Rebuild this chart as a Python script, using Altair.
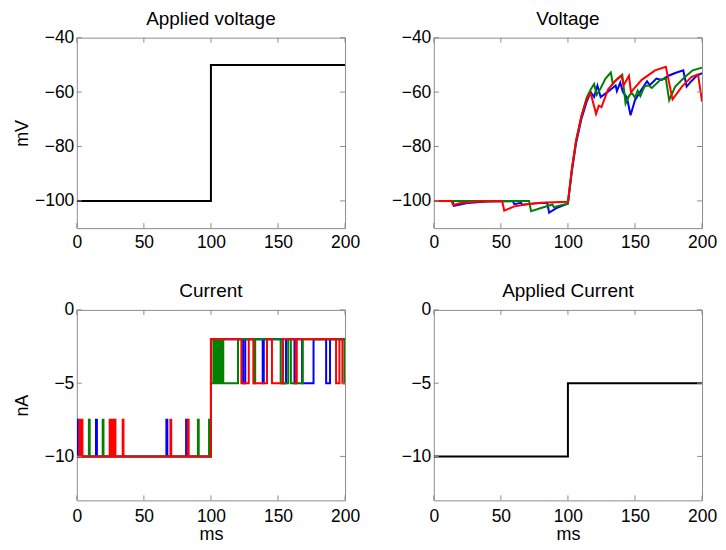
import altair as alt
import pandas as pd

# ---------------- data ----------------
x_ticks = [0, 50, 100, 150, 200]
v_ticks = [-40, -60, -80, -100]
i_ticks = [0, -5, -10]
v_domain = [-110, -40]
i_domain = [-13, 0]
t_domain = [0, 200]

applied_v_t = [0, 100, 200]
applied_v = [-100, -50, -50]
applied_i_t = [0, 100, 200]
applied_i = [-10, -5, -5]

# Voltage traces (ms, mV)
volt_blue_t = [0, 14, 15, 25, 40, 59, 60, 65, 66, 75, 84.5, 86, 92, 100,
               103, 106, 110, 114, 117, 119.5, 122, 124.4, 129.4, 135.6, 136.5, 139,
               141, 144, 146.7, 150, 155, 159, 161, 166, 170, 175, 180, 186, 188.5,
               192, 196, 200]
volt_blue_v = [-100, -100, -101.8, -100.8, -100.2, -100.1, -101.2, -100.7, -101.4, -100.9, -100.7, -104.3, -102.5, -101,
               -89, -79, -70, -63.5, -60, -61.8, -57.6, -61.8, -60, -57.6, -59.6, -56.5,
               -60, -62, -68.5, -63, -59, -56, -57.5, -55, -55.5, -54, -53, -52, -58,
               -56, -54, -53]

volt_green_t = [0, 71, 72.5, 80, 88.5, 89.5, 95, 100,
                103, 106, 110, 114, 117, 119.5, 121.5, 124, 128, 132, 133.5, 137, 140.5,
                143, 146, 148, 150, 152, 154, 157, 160, 162.5, 169, 173, 175.5, 180,
                186, 193, 200]
volt_green_v = [-100, -100, -103.8, -102.6, -101.3, -102.3, -101.6, -101,
                -88, -78, -69, -62, -59, -57, -61, -59, -55, -52.8, -57, -55, -53.6,
                -64.2, -61, -60.5, -62, -59.5, -61.5, -58, -57.5, -58.5, -55.5, -55, -63, -58,
                -55, -52, -51]

volt_red_t = [0, 13, 14.5, 20, 30, 51, 52.5, 60, 70, 80, 100,
              103, 106, 110, 114, 117, 121, 123, 125, 130, 135, 140, 141.5, 145.5,
              147, 155, 165, 173, 178, 185, 192, 197, 200]
volt_red_v = [-100, -100, -101.5, -100.8, -100.3, -100, -103.6, -102, -101.2, -100.7, -100.3,
              -88, -78, -69, -62.5, -60.5, -68, -65, -65.5, -59, -56, -54, -57.5, -54,
              -60, -55.5, -52, -50.7, -62.7, -58, -54.5, -53.5, -63.5]

# Current traces (ms, nA), step-after
cur_blue_t = [0, 0.8, 14.3, 15, 66.8, 67.5, 81.5, 82.2, 100, 124, 125.6, 138.6, 139.4,
              153.6, 156, 162.3, 163, 168, 176.5, 185.9, 188.8, 200]
cur_blue_v = [-7.5, -10, -7.5, -10, -7.5, -10, -7.5, -10, -2, -5, -2, -5, -2,
              -5, -2, -5, -2, -5, -2, -5, -2, -2]

cur_green_t = [0, 9, 9.6, 19.3, 19.9, 90.3, 90.9, 98.6, 99.2, 100, 101.8, 102.4, 103.8, 104.4,
               105.8, 106.4, 107.8, 109.2, 120.2, 131.8, 133, 152, 157.6, 159.6, 168.5, 199.5, 200]
cur_green_v = [-10, -7.5, -10, -7.5, -10, -7.5, -10, -7.5, -10, -5, -2, -5, -2, -5,
               -2, -5, -2, -5, -2, -5, -2, -5, -2, -5, -2, -5, -5]

cur_red_t = [0, 2, 2.6, 3.6, 4.2, 24.5, 25.1, 26.5, 27.1, 28.2, 28.8, 34.2, 34.8, 69.8, 70.4,
             82.8, 83.4, 100, 122.7, 128.2, 131.8, 141.8, 145.5, 153.5, 163.3, 164, 193.3,
             195.8, 198, 200]
cur_red_v = [-10, -7.5, -10, -7.5, -10, -7.5, -10, -7.5, -10, -7.5, -10, -7.5, -10, -7.5, -10,
             -7.5, -10, -2, -5, -2, -5, -2, -5, -2, -5, -2, -5,
             -2, -5, -5]

# ---------------- style ----------------
W, H = 269, 191
BOX = "#8c8c8c"
FONT = "Liberation Sans"
TICK = 5


def xscale():
    return alt.Scale(domain=t_domain, nice=False, zero=False)


def yscale(dom):
    return alt.Scale(domain=dom, nice=False, zero=False)


def axes(yticks, ytitle, xtitle):
    yaxis = alt.Axis(values=yticks, title=ytitle if ytitle else None,
                     minExtent=44, maxExtent=44, labelPadding=3, titlePadding=1)
    if xtitle:
        xaxis = alt.Axis(values=x_ticks, title=xtitle, labelPadding=7, titlePadding=1)
    else:
        xaxis = alt.Axis(values=x_ticks, title=None, labelPadding=5)
    return xaxis, yaxis


def line_layer(ts, vs, color, ydom, xaxis, yaxis, interp):
    df = pd.DataFrame({"t": ts, "v": vs})
    return alt.Chart(df).mark_line(color=color, strokeWidth=2, interpolate=interp,
                                   clip=True).encode(
        x=alt.X("t:Q", scale=xscale(), axis=xaxis),
        y=alt.Y("v:Q", scale=yscale(ydom), axis=yaxis),
    )


def tick_layers(ydom, yticks, xaxis, yaxis):
    xt = pd.DataFrame({"t": x_ticks})
    yt = pd.DataFrame({"v": yticks})
    out = []
    for a, b in [(H, H - TICK), (0, TICK)]:
        out.append(alt.Chart(xt).mark_rule(color=BOX, strokeWidth=1).encode(
            x=alt.X("t:Q", scale=xscale(), axis=xaxis),
            y=alt.value(a), y2=alt.value(b)))
    for a, b in [(0, TICK), (W, W - TICK)]:
        out.append(alt.Chart(yt).mark_rule(color=BOX, strokeWidth=1).encode(
            y=alt.Y("v:Q", scale=yscale(ydom), axis=yaxis),
            x=alt.value(a), x2=alt.value(b)))
    return out


def panel(title, series, ydom, yticks, ytitle, xtitle, interp):
    xaxis, yaxis = axes(yticks, ytitle, xtitle)
    layers = []
    for ts, vs, col in series:
        layers.append(line_layer(ts, vs, col, ydom, xaxis, yaxis, interp))
    layers += tick_layers(ydom, yticks, xaxis, yaxis)
    return alt.layer(*layers).properties(
        width=W, height=H,
        title=alt.TitleParams(title, fontSize=19, font=FONT, fontWeight="normal",
                              anchor="middle", frame="group", offset=-15,
                              baseline="alphabetic", color="black"),
    )


p1 = panel("Applied voltage", [(applied_v_t, applied_v, "black")], v_domain, v_ticks,
           "mV", None, "step-after")
p2 = panel("Voltage", [(volt_blue_t, volt_blue_v, "#0000ff"),
                       (volt_green_t, volt_green_v, "#008000"),
                       (volt_red_t, volt_red_v, "#ff0000")], v_domain, v_ticks,
           None, None, "linear")
p3 = panel("Current", [(cur_blue_t, cur_blue_v, "#0000ff"),
                       (cur_green_t, cur_green_v, "#008000"),
                       (cur_red_t, cur_red_v, "#ff0000")], i_domain, i_ticks,
           "nA", "ms", "step-after")
p4 = panel("Applied Current", [(applied_i_t, applied_i, "black")], i_domain, i_ticks,
           None, "ms", "step-after")

row1 = alt.hconcat(p1, p2, spacing=28)
row2 = alt.hconcat(p3, p4, spacing=28)

chart = alt.vconcat(row1, row2, spacing=30).properties(
    padding={"left": 5, "top": 0, "right": 0, "bottom": 0}
).configure(
    background="white"
).configure_view(
    stroke=BOX, strokeWidth=1
).configure_axis(
    domain=False, ticks=False, grid=False, labelFlush=False, labelOverlap=False,
    labelFont=FONT, labelFontSize=17.5, labelColor="black",
    titleFont=FONT, titleFontSize=18, titleFontWeight="normal", titleColor="black",
)

chart.save("out.html", embed_options={"renderer": "svg", "actions": False})
